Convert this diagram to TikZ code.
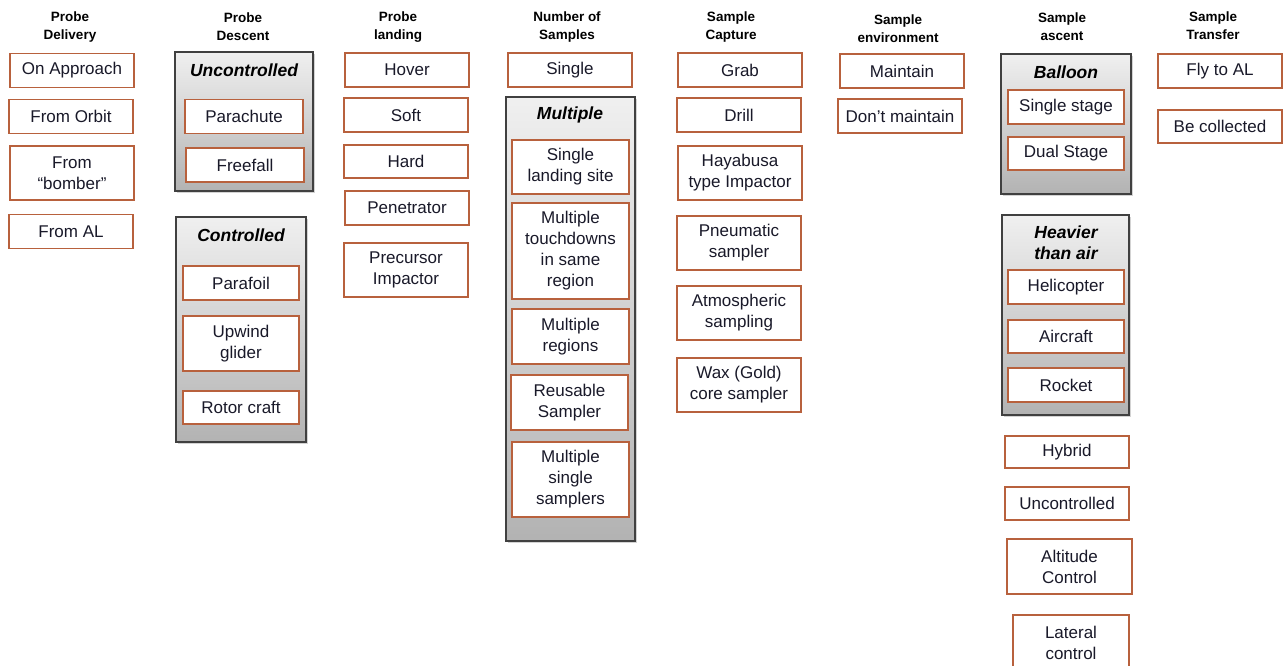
\documentclass[tikz,border=0pt]{standalone}
\usepackage{fontspec}
\setmainfont{Liberation Sans}
\usepackage{tikz}
\usetikzlibrary{shadows}
\definecolor{smbrown}{rgb}{0.72, 0.38, 0.24}
\definecolor{smink}{rgb}{0.10, 0.10, 0.16}
\definecolor{smframe}{rgb}{0.25, 0.25, 0.25}
\definecolor{smtop}{rgb}{0.94, 0.94, 0.94}
\definecolor{smbottom}{rgb}{0.70, 0.70, 0.70}

\tikzset{
  item/.style={draw=smbrown, line width=1.3pt, fill=white, text=smink,
    minimum width=124, minimum height=34, inner sep=0pt, align=center,
    font=\fontsize{17}{21}\selectfont},
  subitem/.style={item, minimum width=117},
  grp/.style={draw=smframe, line width=1.3pt, top color=smtop, bottom color=smbottom,
    inner sep=0pt, drop shadow={opacity=0.35, shadow xshift=1.5pt, shadow yshift=-2pt}},
  grptitle/.style={inner sep=0pt, align=center, text=black,
    font=\fontsize{17.5}{21}\selectfont\bfseries\itshape},
  colhead/.style={inner sep=0pt, align=center, text=black,
    font=\fontsize{13.5}{18}\selectfont\bfseries}
}

\begin{document}
\begin{tikzpicture}[x=1pt, y=-1pt]
\useasboundingbox (0,0) rectangle (1284,665);

% column heads
\node[colhead] (hdeliv) at (70,27) {Probe\\Delivery};
\node[colhead] (hdesc) at (243,27) {Probe\\Descent};
\node[colhead] (hland) at (398,27) {Probe\\landing};
\node[colhead] (hnum) at (567,27) {Number of\\Samples};
\node[colhead] (hcapt) at (731,27) {Sample\\Capture};
\node[colhead] (henv) at (898,29) {Sample\\environment};
\node[colhead] (hasc) at (1062,27) {Sample\\ascent};
\node[colhead] (htrans) at (1213,26) {Sample\\Transfer};

% probe delivery
\node[item] (approach) at (72,70.5) {On Approach};
\node[item] (orbit) at (71,116.5) {From Orbit};
\node[item, minimum height=54] (bomber) at (72,173) {From\\“bomber”};
\node[item] (fromal) at (71,231.5) {From AL};

% probe descent
\node[grp, minimum width=138, minimum height=139] (uncontr) at (244,121.5) {};
\node[grptitle] (uncontrt) at (244,70) {Uncontrolled};
\node[subitem, minimum width=118] (parachute) at (244,116.5) {Parachute};
\node[subitem, minimum width=118] (freefall) at (245,165) {Freefall};
\node[grp, minimum width=130, minimum height=225] (contr) at (241,329.5) {};
\node[grptitle] (contrt) at (241,235) {Controlled};
\node[subitem, minimum width=116] (parafoil) at (241,283) {Parafoil};
\node[subitem, minimum width=116, minimum height=55] (upwind) at (241,343.5) {Upwind\\glider};
\node[subitem, minimum width=116, minimum height=33] (rotor) at (241,407.5) {Rotor craft};

% probe landing
\node[item] (hover) at (407,70) {Hover};
\node[item] (soft) at (406,115) {Soft};
\node[item, minimum height=33] (hard) at (406,161.5) {Hard};
\node[item] (penetr) at (407,208) {Penetrator};
\node[item, minimum height=54] (precursor) at (406,270) {Precursor\\Impactor};

% number of samples
\node[item] (single) at (570,70) {Single};
\node[grp, minimum width=129, minimum height=444] (multiple) at (570.5,319) {};
\node[grptitle] (multiplet) at (570,115) {Multiple};
\node[subitem, minimum height=54] (onesite) at (570.5,167) {Single\\landing site};
\node[subitem, minimum height=96] (touchdowns) at (570.5,251) {Multiple\\touchdowns\\in same\\region};
\node[subitem, minimum height=55] (regions) at (570.5,336.5) {Multiple\\regions};
\node[subitem, minimum height=55] (reusable) at (569.5,402.5) {Reusable\\Sampler};
\node[subitem, minimum height=75] (samplers) at (570.5,479.5) {Multiple\\single\\samplers};

% sample capture
\node[item] (grab) at (740,70) {Grab};
\node[item] (drill) at (739,115) {Drill};
\node[item, minimum height=54] (hayabusa) at (740,173) {Hayabusa\\type Impactor};
\node[item, minimum height=54] (pneumatic) at (739,243) {Pneumatic\\sampler};
\node[item, minimum height=54] (atmos) at (739,313) {Atmospheric\\sampling};
\node[item, minimum height=54] (wax) at (739,385) {Wax (Gold)\\core sampler};

% sample environment
\node[item] (maintain) at (902,71) {Maintain};
\node[item] (dontkeep) at (900,116) {Don’t maintain};

% sample ascent
\node[grp, minimum width=130, minimum height=140] (balloon) at (1066,124) {};
\node[grptitle] (balloont) at (1066,72) {Balloon};
\node[subitem, minimum width=116] (onestage) at (1066,107) {Single stage};
\node[subitem, minimum width=116, minimum height=33] (twostage) at (1066,153.5) {Dual Stage};
\node[grp, minimum width=127, minimum height=200] (heavier) at (1065.5,315) {};
\node[grptitle] (heaviert) at (1066,242.5) {Heavier\\than air};
\node[subitem, minimum width=116] (heli) at (1066,287) {Helicopter};
\node[subitem, minimum width=116, minimum height=33] (aircraft) at (1066,336.5) {Aircraft};
\node[subitem, minimum width=116] (rocket) at (1066,385) {Rocket};
\node[item, minimum height=32] (hybrid) at (1067,452) {Hybrid};
\node[item, minimum height=33] (uncontrasc) at (1067,503.5) {Uncontrolled};
\node[item, minimum width=125, minimum height=55] (altitude) at (1069.5,566.5) {Altitude\\Control};
\node[item, minimum width=116, minimum height=55] (lateral) at (1071,642.5) {Lateral\\control};

% sample transfer
\node[item] (flytoal) at (1220,71) {Fly to AL};
\node[item, minimum height=33] (collected) at (1220,126.5) {Be collected};
\end{tikzpicture}
\end{document}
